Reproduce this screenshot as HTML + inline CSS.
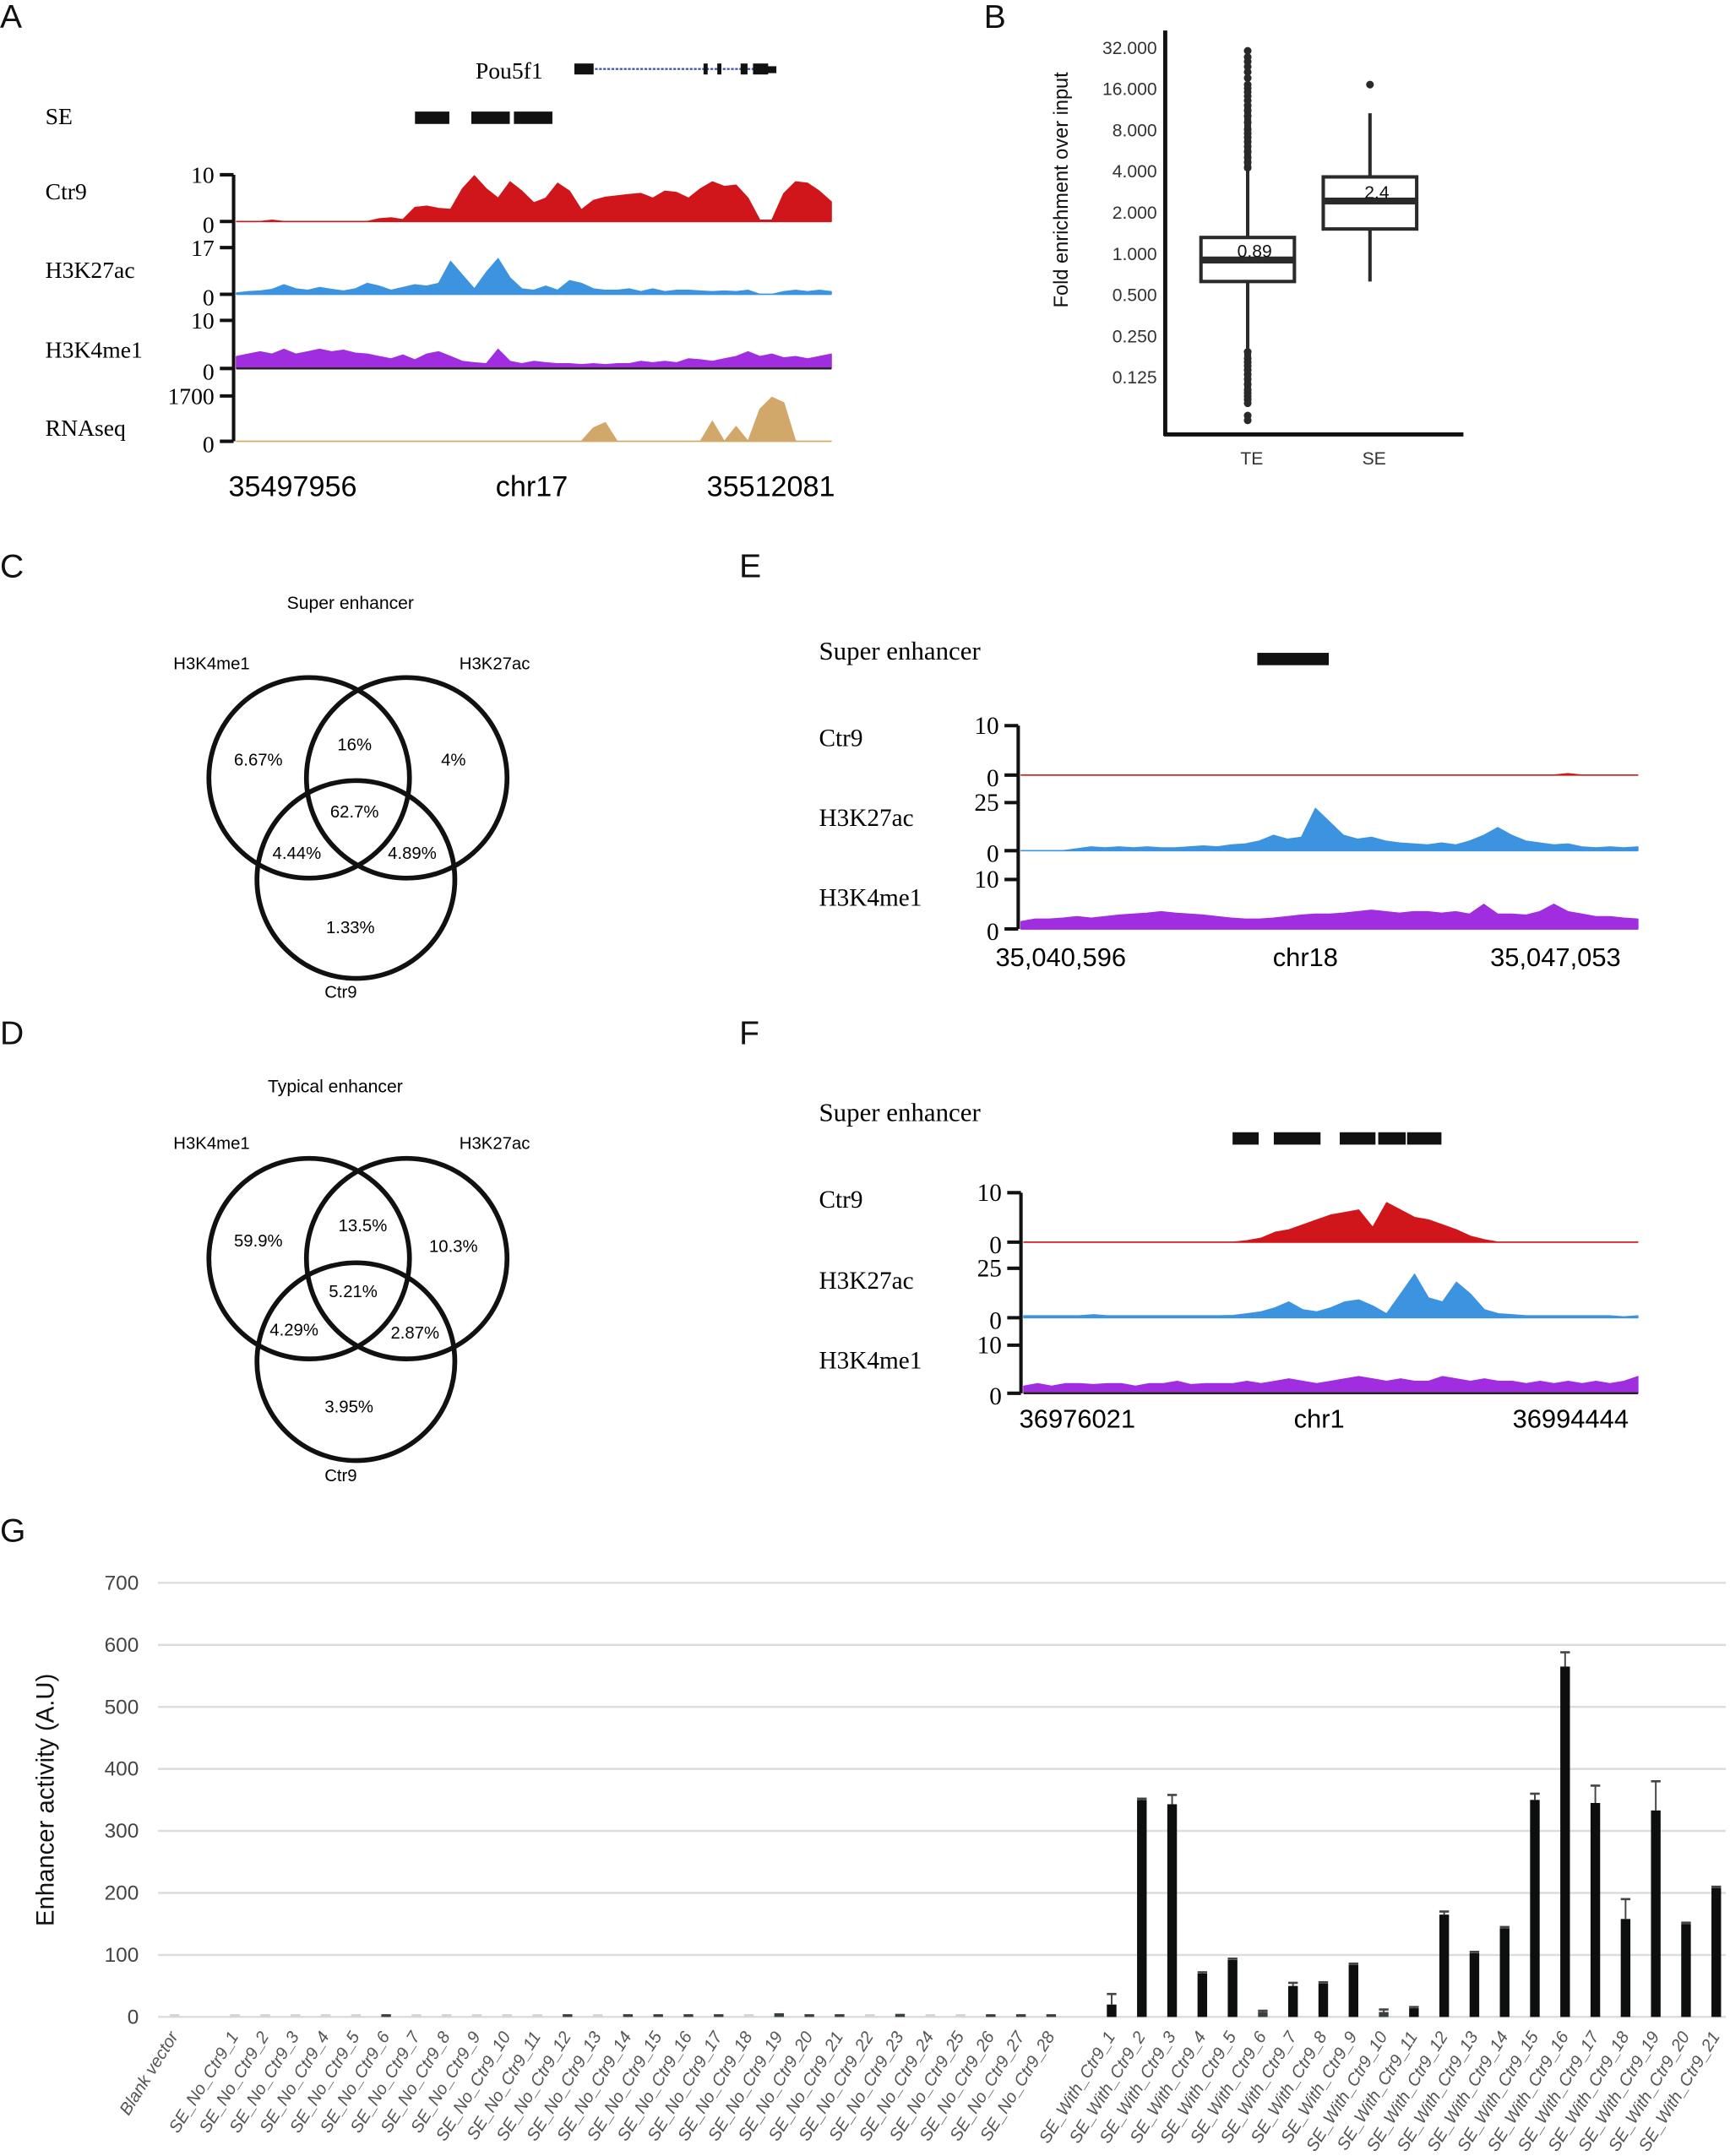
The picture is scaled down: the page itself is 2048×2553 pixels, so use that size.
<!DOCTYPE html>
<html><head><meta charset="utf-8">
<style>
html,body{margin:0;padding:0;background:#fff;}
svg{display:block;}
.serif{font-family:"Liberation Serif",serif;}
.sans{font-family:"Liberation Sans",sans-serif;}
.narrow{font-family:"Liberation Sans Narrow","Liberation Sans",sans-serif;}
</style></head>
<body>
<svg id="fig" width="2048" height="2553" viewBox="0 0 1259 1569" xmlns="http://www.w3.org/2000/svg">
<rect x="0" y="0" width="1259" height="1569" fill="#fff"/>
<g class="sans" font-size="24" fill="#111">
<text x="0" y="20">A</text>
<text x="716" y="20">B</text>
<text x="0" y="420">C</text>
<text x="538" y="420">E</text>
<text x="0" y="760">D</text>
<text x="538" y="760">F</text>
<text x="0" y="1122">G</text>
</g>

<g id="panelA">
<text class="serif" x="346" y="57" font-size="17">Pou5f1</text>
<g>
<line x1="424" y1="50" x2="558" y2="50" stroke="#4a5aa8" stroke-width="1.5" stroke-dasharray="2 1"/>
<rect x="418" y="46" width="14" height="8" fill="#111"/>
<rect x="512" y="46" width="3" height="8" fill="#111"/>
<rect x="522" y="46" width="3" height="8" fill="#111"/>
<rect x="539" y="46" width="5" height="8" fill="#111"/>
<rect x="548" y="46" width="11" height="8" fill="#111"/>
<rect x="558" y="48" width="7" height="5" fill="#111"/>
</g>
<text class="serif" x="33" y="90" font-size="17">SE</text>
<g>
<rect x="302" y="81" width="25" height="9" fill="#111"/>
<rect x="343" y="81" width="28" height="9" fill="#111"/>
<rect x="374" y="81" width="28" height="9" fill="#111"/>
</g>
<g class="serif" font-size="17">
<text x="33" y="145">Ctr9</text>
<text x="33" y="202">H3K27ac</text>
<text x="33" y="260">H3K4me1</text>
<text x="33" y="317">RNAseq</text>
</g>
<g class="narrow" font-size="21" text-anchor="middle">
<text x="213" y="361">35497956</text>
<text x="387" y="361">chr17</text>
<text x="561" y="361">35512081</text>
</g>
</g>

<g id="panelE">
<text class="serif" x="596" y="480" font-size="19">Super enhancer</text>
<rect x="915" y="475" width="52" height="9" fill="#111"/>
<g class="serif" font-size="18">
<text x="596" y="543">Ctr9</text>
<text x="596" y="601">H3K27ac</text>
<text x="596" y="659">H3K4me1</text>
</g>
<g class="narrow" font-size="19" text-anchor="middle">
<text x="772" y="703">35,040,596</text>
<text x="950" y="703">chr18</text>
<text x="1132" y="703">35,047,053</text>
</g>
</g>

<g id="panelF">
<text class="serif" x="596" y="816" font-size="19">Super enhancer</text>
<g fill="#111">
<rect x="897" y="824" width="19" height="9"/>
<rect x="927" y="824" width="34" height="9"/>
<rect x="975" y="824" width="26" height="9"/>
<rect x="1003" y="824" width="20" height="9"/>
<rect x="1024" y="824" width="25" height="9"/>
</g>
<g class="serif" font-size="18">
<text x="596" y="879">Ctr9</text>
<text x="596" y="938">H3K27ac</text>
<text x="596" y="996">H3K4me1</text>
</g>
<g class="narrow" font-size="19" text-anchor="middle">
<text x="784" y="1039">36976021</text>
<text x="960" y="1039">chr1</text>
<text x="1143" y="1039">36994444</text>
</g>
</g>

<g id="vennC" class="sans" font-size="12.5" text-anchor="middle">
<text x="255" y="443" font-size="13">Super enhancer</text>
<text x="154" y="487">H3K4me1</text>
<text x="360" y="487">H3K27ac</text>
<text x="248" y="726">Ctr9</text>
<circle cx="225" cy="566" r="73" fill="none" stroke="#111" stroke-width="3.5"/>
<circle cx="296" cy="566" r="73" fill="none" stroke="#111" stroke-width="3.5"/>
<circle cx="259" cy="640" r="72" fill="none" stroke="#111" stroke-width="3.5"/>
<text x="188" y="557">6.67%</text><text x="258" y="546">16%</text><text x="330" y="557">4%</text>
<text x="258" y="595">62.7%</text><text x="216" y="625">4.44%</text><text x="300" y="625">4.89%</text>
<text x="255" y="679">1.33%</text>
</g>
<g id="vennD" class="sans" font-size="12.5" text-anchor="middle">
<text x="244" y="795" font-size="13">Typical enhancer</text>
<text x="154" y="836">H3K4me1</text>
<text x="360" y="836">H3K27ac</text>
<text x="248" y="1078">Ctr9</text>
<circle cx="225" cy="916" r="73" fill="none" stroke="#111" stroke-width="3.5"/>
<circle cx="296" cy="916" r="73" fill="none" stroke="#111" stroke-width="3.5"/>
<circle cx="259" cy="991" r="72" fill="none" stroke="#111" stroke-width="3.5"/>
<text x="188" y="907">59.9%</text><text x="264" y="896">13.5%</text><text x="330" y="911">10.3%</text>
<text x="257" y="944">5.21%</text><text x="214" y="972">4.29%</text><text x="302" y="974">2.87%</text>
<text x="254" y="1028">3.95%</text>
</g>

<g id="dyn"></g>
</svg>

<script>
const aCtr9 = [0,0,0,0.3,0,0,0,0,0,0,0,0,0.6,0.8,0.4,3,3.3,2.8,2.6,7,9.8,7,5,8.5,6.5,4,5,8.2,6.5,2.5,4.5,5.2,5.5,5.8,6,5,6.5,6.2,5,7,8.5,7.5,7.8,5,0.3,0.3,6,8.5,8.2,6.5,4.2];
const aK27 = [0.5,1,1.2,1.8,3.5,2,1.5,2.5,1.8,1.2,2,4,3,1.5,2.5,3.5,3,4,12,7,2,8,13,6,2,1.5,3,1.5,5,4,2,1.5,1.5,2,1,2,1,1.5,1.5,1.2,1,1.2,1,1.5,0,0,1,1.5,1,1.5,1];
const aK4 = [2.5,3,3.5,3,4,3,3.5,4,3.5,3.8,3.2,3,2.5,2,2.8,1.8,3,3.5,2.5,1.5,1.2,1,4,1.5,1,1.5,1.2,1,1,0.8,1,0.8,1,1,1.5,1.2,1.5,1.2,2,1.8,1.5,2,2.5,3.5,2.5,3,2.2,2.5,2,2.5,3];
const aRna = [0,0,0,0,0,0,0,0,0,0,0,0,0,0,0,0,0,0,0,0,0,0,0,0,0,0,0,0,0,0,500,700,0,0,0,0,0,0,0,0,750,0,550,0,1200,1650,1450,0,0,0,0];
const aTicks = [["10","0"],["17","0"],["10","0"],["1700","0"]];
const aMax = [10,17,10,1700];
const eCtr9 = [0,0,0,0,0,0,0,0,0,0,0,0,0,0,0,0,0,0,0,0,0,0,0,0,0,0,0,0,0,0,0,0,0,0,0,0,0,0,0,0.3,0,0,0,0,0];
const eK27 = [0,0,0,0,1,2,1.5,2,1.5,2,1.5,1.5,2,2.5,2,3,3.5,5,8,6,7,22,15,8,6,7,5,4,3.5,3,4,3,5,8,12,8,5,4,3,3.5,2,1.5,2,1.5,2];
const eK4 = [1.5,2,2,2.2,2.5,2.2,2.5,2.8,3,3.2,3.5,3.2,3,2.8,2.5,2.2,2,2,2.2,2.5,2.8,3,3,3.2,3.5,3.8,3.5,3.2,3.5,3.5,3.2,3.5,3,5,3,3,2.8,3.5,5,3.5,3,2.5,2.5,2.2,2];
const fCtr9 = [0,0,0,0,0,0,0,0,0,0,0,0,0,0,0,0,0.3,0.8,2,2.5,3.5,4.5,5.5,6,6.5,3,8,6.5,5,4.5,3.5,2.5,1.2,0.5,0,0,0,0,0,0,0,0,0,0,0];
const fK27 = [1,1,1,1,1,1.5,1,1,1,1,1,1,1,1,1,1.2,2,3,5,8,4,3,5,8,9,6,2,12,22,10,8,18,12,4,2,1.5,1,1,1,1,1,1,1,0.5,1];
const fK4 = [1.5,2,1.5,2,2,1.8,2,2,1.5,2,2,2.5,1.8,2,2,2,2.5,2,2.5,3,2.5,2,2.5,3,3.5,3,2.5,3,2.5,2.5,3.5,3,2.5,3,2.5,2.5,2,2.5,2,2.5,2,2.5,2,2.5,3.5];
const efTicks = [["10","0"],["25","0"],["10","0"]];
const efMax = [10,25,10];
const bCats = ["TE","SE"];
const bQ1 = [0.62,1.5];
const bMed = [0.89,2.4];
const bQ3 = [1.3,3.6];
const bLo = [0.2,0.62];
const bHi = [4.0,10.5];
const bOutHiTE = [4.2,4.6,5,5.5,6,6.5,7,7.5,8,9,10,11,12,13,14,15,16,17,19,21,23,25,27,30];
const bOutLoTE = [0.19,0.17,0.16,0.15,0.14,0.13,0.12,0.11,0.1,0.095,0.09,0.085,0.08,0.065,0.06];
const bOutSE = [17];
const bTicks = [32,16,8,4,2,1,0.5,0.25,0.125];
const bTickLabels = ["32.000","16.000","8.000","4.000","2.000","1.000","0.500","0.250","0.125"];
const gCats = ["Blank vector",""];
for (let k=1;k<=28;k++) gCats.push("SE_No_Ctr9_"+k);
gCats.push("");
for (let k=1;k<=21;k++) gCats.push("SE_With_Ctr9_"+k);
const gNoVals = [1,1,1,1,1,3,1,1,1,1,1,3,1,3,3,3,3,1,6,3,3,1,5,1,1,3,3,4];
const gWithVals = [20,350,343,70,92,8,50,54,84,8,14,165,103,143,350,565,345,158,333,150,208];
const gWithErr = [37,352,358,72,94,10,55,56,86,12,16,170,105,145,360,588,373,190,380,152,210];
const gBlank = 1;
const gYTicks = [0,100,200,300,400,500,600,700];

const NS="http://www.w3.org/2000/svg";
const dyn=document.getElementById('dyn');
function mk(tag,attrs,parent){const e=document.createElementNS(NS,tag);for(const k in attrs)e.setAttribute(k,attrs[k]);(parent||dyn).appendChild(e);return e;}

function track(vals,x0,x1,yBase,yTop,max,color,name){
  const n=vals.length, sx=(x1-x0)/(n-1);
  const yv=v=>yBase-(v/max)*(yBase-yTop);
  let d="M"+x0+","+yBase;
  vals.forEach((v,i)=>{d+=" L"+(x0+i*sx).toFixed(1)+","+yv(v).toFixed(1);});
  d+=" L"+x1+","+yBase+" Z";
  const p=mk('path',{d:d,fill:color,stroke:color,'stroke-width':0.8,'stroke-linejoin':'round'});
  
  
  const b=mk('line',{x1:x0,x2:x1,y1:yBase,y2:yBase,stroke:color,'stroke-width':1});
  
  
}
function axisTicks(ax,bases,tops,labels,names,fs){
  const g=mk('g',{});
  
  
  mk('line',{x1:ax,x2:ax,y1:tops[0],y2:bases[bases.length-1],stroke:'#111','stroke-width':2.5},g);
  bases.forEach((yb,i)=>{
    const yt=tops[i];
    mk('line',{x1:ax-10,x2:ax,y1:yt,y2:yt,stroke:'#111','stroke-width':2.5},g);
    mk('line',{x1:ax-10,x2:ax,y1:yb,y2:yb,stroke:'#111','stroke-width':2.5},g);
    const t1=mk('text',{x:ax-14,y:yt+6,'text-anchor':'end','font-size':fs,'font-family':'Liberation Serif, serif'},g);t1.textContent=labels[i][0];
    const t2=mk('text',{x:ax-14,y:yb+8,'text-anchor':'end','font-size':fs,'font-family':'Liberation Serif, serif'},g);t2.textContent=labels[i][1];
  });
}

const aBases=[161,214,268,321], aTops=[127,180,233,288];
track(aCtr9,172,605,aBases[0],aTops[0],aMax[0],'#d0161b','track-ctr9-a');
track(aK27,172,605,aBases[1],aTops[1],aMax[1],'#3c93e0','track-h3k27ac-a');
track(aK4,172,605,aBases[2],aTops[2],aMax[2],'#a02de0','track-h3k4me1-a');
mk('line',{x1:172,x2:605,y1:268,y2:268,stroke:'#222','stroke-width':1.5});
track(aRna,172,605,aBases[3],aTops[3],aMax[3],'#d2a76a','track-rnaseq-a');
axisTicks(170,aBases,aTops,aTicks,'y-axis-a',17);

const eBases=[564,619,676], eTops=[528,584,640];
track(eCtr9,743,1192,eBases[0],eTops[0],efMax[0],'#d0161b','track-ctr9-e');
track(eK27,743,1192,eBases[1],eTops[1],efMax[1],'#3c93e0','track-h3k27ac-e');
track(eK4,743,1192,eBases[2],eTops[2],efMax[2],'#a02de0','track-h3k4me1-e');
axisTicks(741,eBases,eTops,efTicks,'y-axis-e',18);
const fBases=[904,959,1014], fTops=[868,923,979];
track(fCtr9,745,1192,fBases[0],fTops[0],efMax[0],'#d0161b','track-ctr9-f');
track(fK27,745,1192,fBases[1],fTops[1],efMax[1],'#3c93e0','track-h3k27ac-f');
track(fK4,745,1192,fBases[2],fTops[2],efMax[2],'#a02de0','track-h3k4me1-f');
mk('line',{x1:745,x2:1192,y1:1014,y2:1014,stroke:'#222','stroke-width':1.5});
axisTicks(743,fBases,fTops,efTicks,'y-axis-f',18);

(function(){
  const yB=v=>274-(Math.log2(v)+3)*30;
  const cx=[908,997], hw=[34,34];
  const g=mk('g',{});
  
  
  mk('line',{x1:848,x2:848,y1:22,y2:317,stroke:'#111','stroke-width':3},g);
  mk('line',{x1:847,x2:1065,y1:316,y2:316,stroke:'#111','stroke-width':3},g);
  bTicks.forEach((v,i)=>{
    const t=mk('text',{x:842,y:yB(v)+5,'text-anchor':'end','font-size':13,fill:'#333','font-family':'Liberation Sans, sans-serif'},g);
    t.textContent=bTickLabels[i];
    
    
  });
  const yt=mk('text',{transform:'translate(777,138) rotate(-90)','text-anchor':'middle','font-size':14.5,fill:'#111','font-family':'Liberation Sans, sans-serif'},g);
  yt.textContent='Fold enrichment over input';
  
  
  bCats.forEach((c,i)=>{
    const x=cx[i];
    const gb=mk('g',{},g);
    
    
    mk('line',{x1:x,x2:x,y1:yB(bHi[i]),y2:yB(bLo[i]),stroke:'#2a2a2a','stroke-width':2.5},gb);
    mk('rect',{x:x-hw[i],y:yB(bQ3[i]),width:hw[i]*2,height:yB(bQ1[i])-yB(bQ3[i]),fill:'#fff',stroke:'#2a2a2a','stroke-width':2.5},gb);
    mk('line',{x1:x-hw[i],x2:x+hw[i],y1:yB(bMed[i]),y2:yB(bMed[i]),stroke:'#2a2a2a','stroke-width':5},gb);
    const ml=mk('text',{x:x+5,y:yB(bMed[i])-2,'text-anchor':'middle','font-size':13,fill:'#111','font-family':'Liberation Sans, sans-serif'},gb);
    ml.textContent=String(bMed[i]);
    
    
    const xl=mk('text',{x:x+3,y:338,'text-anchor':'middle','font-size':13,fill:'#333','font-family':'Liberation Sans, sans-serif'},g);
    xl.textContent=c;
    
    
  });
  bOutHiTE.concat(bOutLoTE).forEach(v=>{const o=mk('circle',{cx:cx[0],cy:yB(v),r:2.8,fill:'#2a2a2a'},g);
    
    });
  mk('line',{x1:cx[0],x2:cx[0],y1:yB(4.1),y2:yB(12),stroke:'#2a2a2a','stroke-width':5},g);
  mk('line',{x1:cx[0],x2:cx[0],y1:yB(0.19),y2:yB(0.08),stroke:'#2a2a2a','stroke-width':5},g);
  bOutSE.forEach(v=>{const o=mk('circle',{cx:cx[1],cy:yB(v),r:2.8,fill:'#2a2a2a'},g);
    
    });
})();

(function(){
  const y0=1468, per=(1468-1152)/700;
  const yG=v=>y0-v*per;
  const xG=i=>127+i*22;
  const bw=7;
  const g=mk('g',{});
  
  
  gYTicks.forEach(v=>{
    mk('line',{x1:115,x2:1256,y1:yG(v),y2:yG(v),stroke:'#dcdcdc','stroke-width':1.5},g);
    const t=mk('text',{x:101,y:yG(v)+5,'text-anchor':'end','font-size':15,fill:'#444','font-family':'Liberation Sans Narrow, Liberation Sans, sans-serif'},g);
    t.textContent=String(v);
    
    
  });
  const yt=mk('text',{transform:'translate(39,1310) rotate(-90)','text-anchor':'middle','font-size':18,fill:'#111','font-family':'Liberation Sans, sans-serif'},g);
  yt.textContent='Enhancer activity (A.U)';
  
  
  const vals=[gBlank,null].concat(gNoVals,[null],gWithVals);
  const errs=[null,null].concat(gNoVals.map(()=>null),[null],gWithErr);
  gCats.forEach((c,i)=>{
    const x=xG(i);
    if(c!==""){
      const lab=mk('text',{transform:'translate('+(x+3)+',1482) rotate(-58)','text-anchor':'end','font-size':12.5,'font-style':'italic',fill:'#555','font-family':'Liberation Sans, sans-serif'},g);
      lab.textContent=c;
      
      
    }
    const v=vals[i];
    if(v===null) return;
    const col = v<2 ? '#d4d4d4' : (v<10 ? '#3a4040' : '#0c0f0e');
    const h=Math.max(v*per,2);
    const r=mk('rect',{x:x-bw/2,y:y0-h,width:bw,height:h,fill:col},g);
    
    
    const e=errs[i];
    if(e!==null){
      mk('line',{x1:x,x2:x,y1:yG(v),y2:yG(e),stroke:'#444','stroke-width':1.2},g);
      mk('line',{x1:x-3.5,x2:x+3.5,y1:yG(e),y2:yG(e),stroke:'#444','stroke-width':1.6},g);
    }
  });
})();
</script>
</body></html>
